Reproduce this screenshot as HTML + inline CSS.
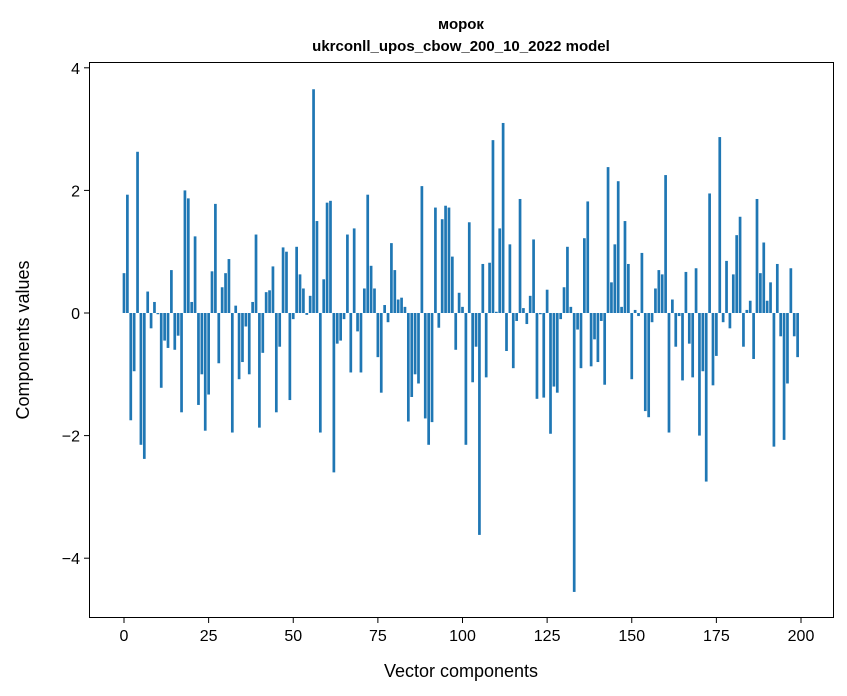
<!DOCTYPE html>
<html><head><meta charset="utf-8"><style>
html,body{margin:0;padding:0;background:#fff;}
svg{display:block;font-family:"Liberation Sans","DejaVu Sans",sans-serif;}
</style></head><body>
<svg id="chart" width="847" height="696" viewBox="0 0 847 696">
<rect x="0" y="0" width="847" height="696" fill="#fff"/>
<text x="461" y="29" text-anchor="middle" font-size="15" font-weight="bold">морок</text>
<text x="461" y="51" text-anchor="middle" font-size="15" font-weight="bold">ukrconll_upos_cbow_200_10_2022 model</text>
<g id="bars"></g>
<rect x="89.5" y="62.5" width="744" height="555" fill="none" stroke="#000" stroke-width="1"/>
<g id="xticks"></g>
<g id="yticks"></g>
<text x="461" y="677" text-anchor="middle" font-size="18">Vector components</text>
<text transform="translate(29,340) rotate(-90)" text-anchor="middle" font-size="18">Components values</text>
</svg>
<script>
const values = [0.65,1.93,-1.75,-0.95,2.63,-2.15,-2.38,0.35,-0.25,0.18,
-0.02,-1.22,-0.45,-0.57,0.70,-0.6,-0.37,-1.62,2.0,1.87,
0.18,1.25,-1.5,-1.0,-1.92,-1.33,0.68,1.78,-0.82,0.42,
0.65,0.88,-1.95,0.12,-1.08,-0.8,-0.22,-1.0,0.18,1.28,
-1.87,-0.65,0.34,0.37,0.76,-1.62,-0.55,1.07,1.0,-1.42,
-0.1,1.08,0.63,0.40,-0.03,0.28,3.65,1.5,-1.95,0.55,
1.8,1.83,-2.6,-0.5,-0.45,-0.1,1.28,-0.97,1.38,-0.3,
-0.97,0.4,1.93,0.77,0.4,-0.72,-1.3,0.13,-0.15,1.14,
0.7,0.22,0.25,0.1,-1.77,-1.37,-1.0,-1.15,2.07,-1.72,
-2.15,-1.78,1.72,-0.24,1.53,1.75,1.72,0.92,-0.6,0.33,
0.1,-2.15,1.48,-1.13,-0.55,-3.62,0.8,-1.05,0.82,2.82,
0.02,1.38,3.1,-0.62,1.12,-0.9,-0.13,1.86,0.08,-0.18,
0.28,1.2,-1.4,-0.02,-1.38,0.38,-1.97,-1.2,-1.3,-0.1,
0.42,1.08,0.1,-4.55,-0.27,-0.9,1.22,1.82,-0.87,-0.43,
-0.8,-0.13,-1.17,2.38,0.5,1.12,2.15,0.1,1.5,0.8,
-1.08,0.05,-0.05,0.98,-1.6,-1.7,-0.15,0.4,0.7,0.63,
2.25,-1.95,0.22,-0.55,-0.05,-1.1,0.67,-0.5,-1.05,0.73,
-2.0,-0.95,-2.75,1.95,-1.18,-0.7,2.87,-0.15,0.85,-0.25,
0.63,1.27,1.57,-0.55,0.05,0.2,-0.75,1.86,0.65,1.15,
0.2,0.5,-2.18,0.8,-0.38,-2.07,-1.15,0.73,-0.38,-0.72];
const xTicks = [0,25,50,75,100,125,150,175,200];
const yTicks = [-4,-2,0,2,4];
const yTickLabels = ["\u22124","\u22122","0","2","4"];

const NS = "http://www.w3.org/2000/svg";
function xs(v){ return 124 + v*3.385; }
function ys(v){ return 313 - v*61.3; }
const bars = document.getElementById('bars');
values.forEach((v,i)=>{
  const r = document.createElementNS(NS,'rect');
  const y0 = ys(Math.max(v,0)), y1 = ys(Math.min(v,0));
  r.setAttribute('x', xs(i-0.4));
  r.setAttribute('y', y0);
  r.setAttribute('width', 0.8*3.385);
  r.setAttribute('height', Math.max(y1-y0,0.3));
  r.setAttribute('fill','#1f77b4');
  
  
  bars.appendChild(r);
});
const xg = document.getElementById('xticks');
xTicks.forEach(t=>{
  const l = document.createElementNS(NS,'line');
  l.setAttribute('x1',xs(t)); l.setAttribute('x2',xs(t));
  l.setAttribute('y1',618); l.setAttribute('y2',623);
  l.setAttribute('stroke','#000');
  
  
  xg.appendChild(l);
  const tx = document.createElementNS(NS,'text');
  tx.setAttribute('x',xs(t)); tx.setAttribute('y',641);
  tx.setAttribute('text-anchor','middle'); tx.setAttribute('font-size','16');
  tx.textContent = t;
  
  
  xg.appendChild(tx);
});
const yg = document.getElementById('yticks');
yTicks.forEach((t,k)=>{
  const l = document.createElementNS(NS,'line');
  l.setAttribute('x1',84); l.setAttribute('x2',89);
  l.setAttribute('y1',ys(t)); l.setAttribute('y2',ys(t));
  l.setAttribute('stroke','#000');
  
  
  yg.appendChild(l);
  const tx = document.createElementNS(NS,'text');
  tx.setAttribute('x',80); tx.setAttribute('y',ys(t)+6);
  tx.setAttribute('text-anchor','end'); tx.setAttribute('font-size','16');
  tx.textContent = yTickLabels[k];
  
  
  yg.appendChild(tx);
});
</script>
</body></html>
